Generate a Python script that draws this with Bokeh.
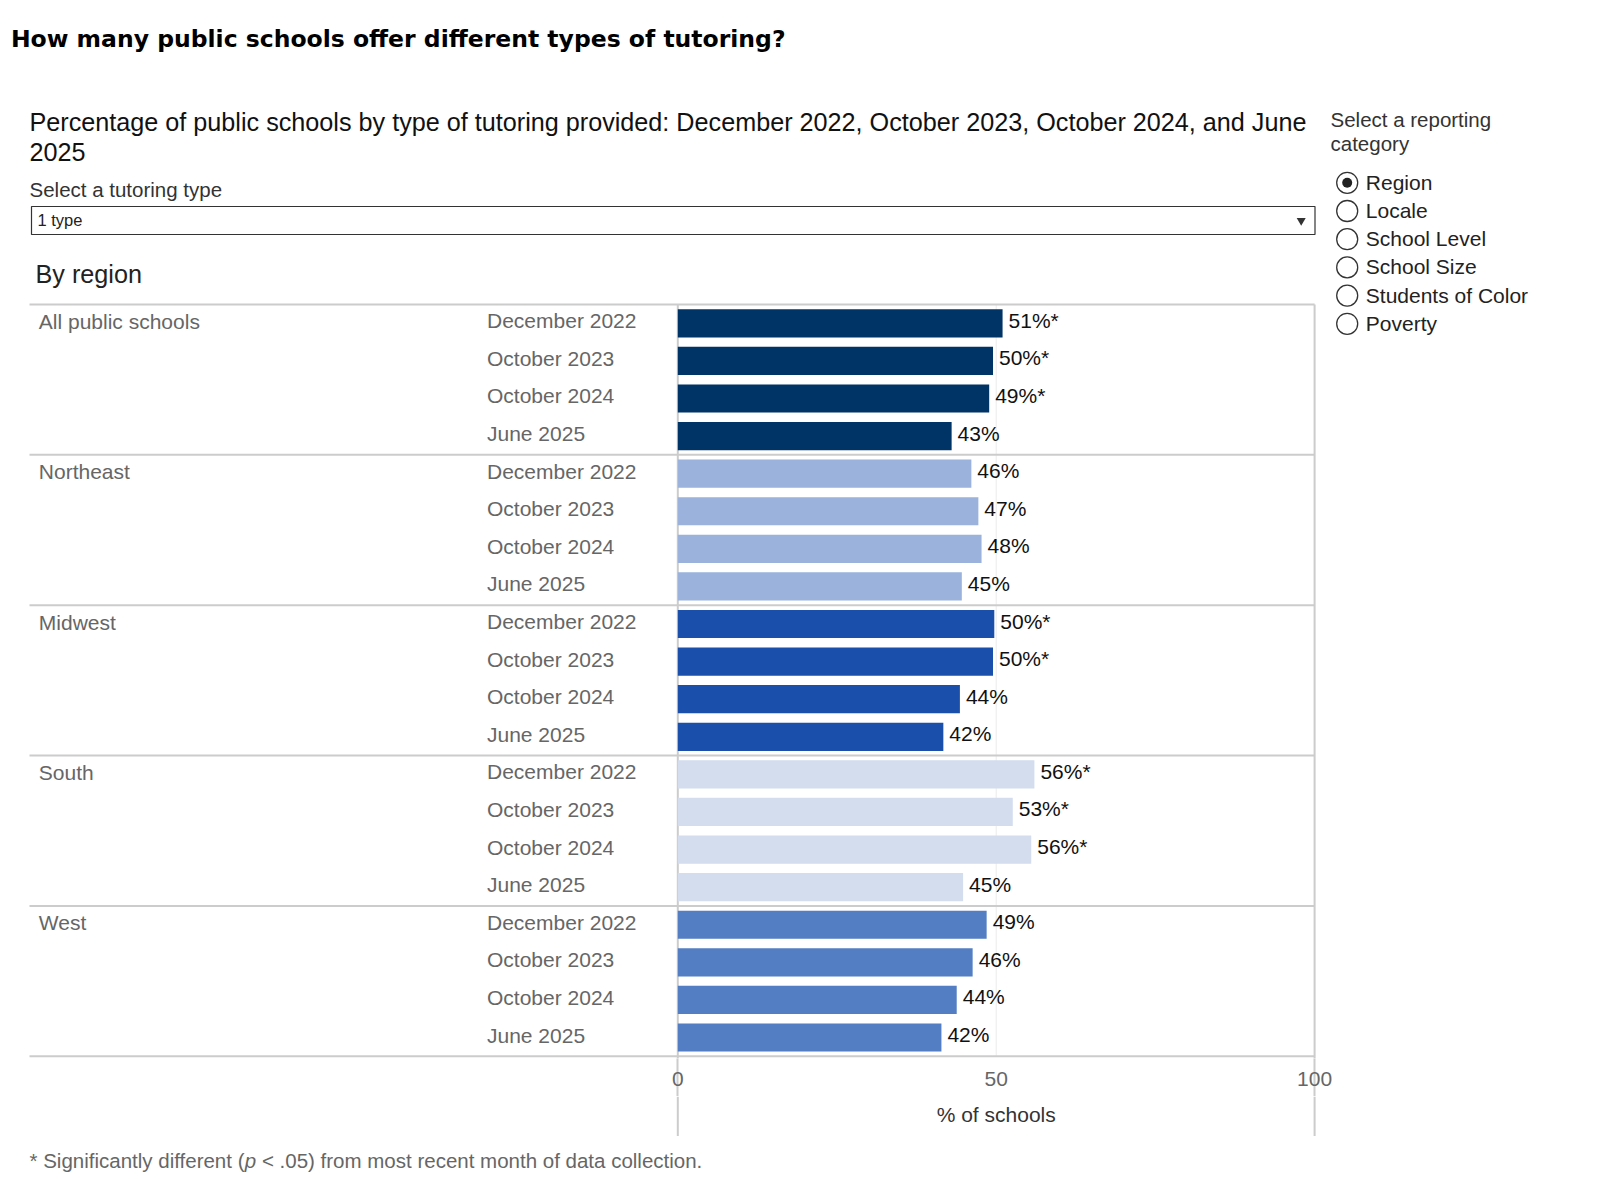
from bokeh.plotting import figure
from bokeh.layouts import column
from bokeh.models import Range1d, FixedTicker
from bokeh.core.properties import value
from bokeh.embed import file_html
from bokeh.resources import INLINE

# ---------------- data ----------------
regions = ["All public schools", "Northeast", "Midwest", "South", "West"]
periods = ["December 2022", "October 2023", "October 2024", "June 2025"]
# bar lengths and printed labels (rounded)
all_public = [51.0, 49.5, 48.9, 43.0]
northeast = [46.1, 47.2, 47.7, 44.6]
midwest = [49.7, 49.5, 44.3, 41.7]
south = [56.0, 52.6, 55.5, 44.8]
west = [48.5, 46.3, 43.8, 41.4]
label_all_public = [51, 50, 49, 43]
label_northeast = [46, 47, 48, 45]
label_midwest = [50, 50, 44, 42]
label_south = [56, 53, 56, 45]
label_west = [49, 46, 44, 42]
sig_all_public = [True, True, True, False]
sig_northeast = [False, False, False, False]
sig_midwest = [True, True, False, False]
sig_south = [True, True, True, False]
sig_west = [False, False, False, False]
region_colors = ["#003366", "#9ab2dc", "#1a4fab", "#d3ddee", "#537ec3"]
tick_values = [0, 50, 100]
reporting_categories = ["Region", "Locale", "School Level", "School Size",
                        "Students of Color", "Poverty"]
selected_category = "Region"
tutoring_type = "1 type"

series = [all_public, northeast, midwest, south, west]
labels = [label_all_public, label_northeast, label_midwest, label_south, label_west]
sigs = [sig_all_public, sig_northeast, sig_midwest, sig_south, sig_west]

# ---------------- layout constants (canvas pixels) ----------------
W = 1615
H1 = 1096           # height of main figure
H2 = 79             # height of footer figure
X0 = 677.3          # canvas x of 0 %
PPU = 6.368         # pixels per percentage point
ROW_TOP = 304.0     # canvas y of first row top
ROW_H = 37.59       # row pitch
FRAME_BOTTOM = 1058 # canvas y of frame bottom
EXT = H1 - FRAME_BOTTOM


def X(cx):
    return (cx - X0) / PPU


def Y(cy):
    return (cy - ROW_TOP) / ROW_H


FONT = "Liberation Sans"
GRID = "#cccccc"

xr = Range1d(X(0), X(W))

p = figure(width=W, height=H1, x_range=xr,
           y_range=Range1d(Y(FRAME_BOTTOM), Y(0)),
           output_backend="svg", toolbar_location=None,
           y_axis_location=None,
           min_border_left=0, min_border_right=0, min_border_top=0,
           min_border_bottom=EXT)
p.outline_line_color = None
p.xgrid.visible = False
p.ygrid.visible = False
p.background_fill_color = "white"
p.border_fill_color = "white"

# x axis (tick labels; minor ticks continue the zero line and right border)
ax = p.xaxis[0]
ax.ticker = FixedTicker(ticks=tick_values, minor_ticks=[tick_values[0], tick_values[-1]])
ax.axis_line_color = None
ax.major_tick_line_color = None
ax.major_tick_out = 0
ax.major_tick_in = 0
ax.minor_tick_in = 0
ax.minor_tick_out = EXT
ax.minor_tick_line_color = GRID
ax.minor_tick_line_width = 2
ax.major_label_text_font = FONT
ax.major_label_text_font_size = "21px"
ax.major_label_text_color = "#666666"
ax.major_label_standoff = 13 - EXT

# ---------------- rows ----------------
ys, vals, cols, val_txt, per_txt = [], [], [], [], []
for gi, (vs, ls, ss) in enumerate(zip(series, labels, sigs)):
    for k, (v, lab, s) in enumerate(zip(vs, ls, ss)):
        ys.append(gi * len(periods) + k + 0.5)
        vals.append(v)
        cols.append(region_colors[gi])
        val_txt.append(f"{lab}%" + ("*" if s else ""))
        per_txt.append(periods[k])

n_rows = len(ys)
group_edges = [gi * len(periods) for gi in range(len(regions) + 1)]

# gridline at 50
p.segment(x0=[50], x1=[50], y0=[0], y1=[n_rows], line_color="#ebebeb", line_width=1)

# separators
p.segment(x0=[X(29)] * len(group_edges), x1=[100] * len(group_edges),
          y0=group_edges, y1=group_edges, line_color=GRID, line_width=2)

# vertical lines (zero and right border) inside frame
p.segment(x0=[0, 100], x1=[0, 100], y0=[0, 0], y1=[Y(FRAME_BOTTOM)] * 2,
          line_color=GRID, line_width=2)

# bars
p.hbar(y=ys, left=0, right=vals, height=0.75, fill_color=cols, line_color=None)

# value labels
p.text(x=vals, y=ys, text=val_txt, x_offset=6, y_offset=-3, text_baseline="middle",
       text_align="left", text_font=value(FONT), text_font_size="21px",
       text_color="#111111")

# period labels
p.text(x=[X(486.5)] * n_rows, y=ys, text=per_txt, y_offset=-2.5,
       text_baseline="middle", text_align="left", text_font=value(FONT),
       text_font_size="21px", text_color="#666666")

# region labels
p.text(x=[X(38.3)] * len(regions),
       y=[gi * len(periods) + 0.5 for gi in range(len(regions))],
       text=regions, y_offset=-2, text_baseline="middle", text_align="left",
       text_font=value(FONT), text_font_size="21px", text_color="#666666")

# ---------------- header texts ----------------
p.text(x=[X(10.4)], y=[Y(38.3)],
       text=["How many public schools offer different types of tutoring?"],
       text_baseline="middle", text_align="left",
       text_font=value("DejaVu Sans"), text_font_style="bold",
       text_font_size="23.5px", text_color="#000000")

p.text(x=[X(29)] * 2, y=[Y(121), Y(151)],
       text=["Percentage of public schools by type of tutoring provided: "
             "December 2022, October 2023, October 2024, and June", "2025"],
       text_baseline="middle", text_align="left",
       text_font=value(FONT), text_font_size="25.2px", text_color="#111111")

p.text(x=[X(29)], y=[Y(189.4)], text=["Select a tutoring type"],
       text_baseline="middle", text_align="left",
       text_font=value(FONT), text_font_size="20.5px", text_color="#333333")

# dropdown
p.quad(left=[X(31)], right=[X(1314.5)], top=[Y(206)], bottom=[Y(234)],
       fill_color="white", line_color="#333333", line_width=1.2)
p.text(x=[X(37)], y=[Y(219.5)], text=[tutoring_type], text_baseline="middle",
       text_align="left", text_font=value(FONT), text_font_size="16.5px",
       text_color="#222222")
p.scatter(x=[X(1300.7)], y=[Y(220)], marker="inverted_triangle", size=9,
          fill_color="#333333", line_color=None)

p.text(x=[X(35)], y=[Y(273.5)], text=["By region"], text_baseline="middle",
       text_align="left", text_font=value(FONT), text_font_size="25.2px",
       text_color="#222222")

# ---------------- reporting category radios ----------------
p.text(x=[X(1330)] * 2, y=[Y(119), Y(143)],
       text=["Select a reporting", "category"], text_baseline="middle",
       text_align="left", text_font=value(FONT), text_font_size="20.5px",
       text_color="#333333")

radio_y = [Y(182.3 + i * 28.2) for i in range(len(reporting_categories))]
p.scatter(x=[X(1346.7)] * len(radio_y), y=radio_y, marker="circle", size=21,
          fill_color="white", line_color="#333333", line_width=1.3)
sel_i = reporting_categories.index(selected_category)
p.scatter(x=[X(1346.7)], y=[radio_y[sel_i]], marker="circle", size=10,
          fill_color="#222222", line_color=None)
p.text(x=[X(1365.3)] * len(radio_y), y=radio_y, text=reporting_categories,
       y_offset=-0.5, text_baseline="middle", text_align="left",
       text_font=value(FONT), text_font_size="21px", text_color="#222222")

# ---------------- footer figure (axis title, line ends, footnote) ----------------
f = figure(width=W, height=H2, x_range=xr, y_range=Range1d(H2, 0),
           output_backend="svg", toolbar_location=None,
           x_axis_location=None, y_axis_location=None,
           min_border_left=0, min_border_right=0, min_border_top=0,
           min_border_bottom=0)
f.outline_line_color = None
f.xgrid.visible = False
f.ygrid.visible = False
f.background_fill_color = "white"
f.border_fill_color = "white"

f.segment(x0=[0, 100], x1=[0, 100], y0=[0, 0], y1=[1135.5 - H1] * 2,
          line_color=GRID, line_width=2)
f.text(x=[50], y=[1114 - H1], text=["% of schools"], text_baseline="middle",
       text_align="center", text_font=value(FONT), text_font_size="21px",
       text_color="#333333")

fy = 1160 - H1
f.text(x=[X(29)], y=[fy], text=["* Significantly different ("],
       text_baseline="middle", text_align="left", text_font=value(FONT),
       text_font_size="20.5px", text_color="#666666")
f.text(x=[X(29 + 215.3)], y=[fy], text=["p"], text_font_style="italic",
       text_baseline="middle", text_align="left", text_font=value(FONT),
       text_font_size="20.5px", text_color="#666666")
f.text(x=[X(29 + 226.7 + 5.7)], y=[fy],
       text=["< .05) from most recent month of data collection."],
       text_baseline="middle", text_align="left", text_font=value(FONT),
       text_font_size="20.5px", text_color="#666666")

layout = column(p, f, spacing=0)
open("out.html", "w").write(file_html(layout, INLINE))
